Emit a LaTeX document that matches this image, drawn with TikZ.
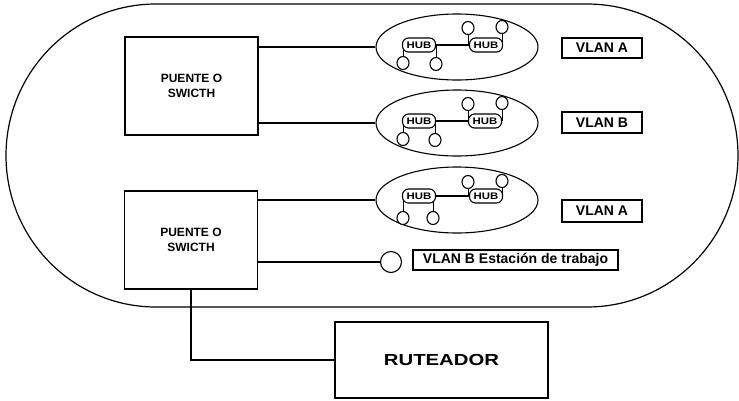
\documentclass[tikz,border=0pt]{standalone}
\usepackage{fontspec}
\setmainfont{Liberation Sans}
\newfontfamily\hubfont[FakeStretch=1.2]{Liberation Sans}
\newfontfamily\rutfont[FakeStretch=1.27]{Liberation Sans}
\usetikzlibrary{shapes.geometric,backgrounds}
\begin{document}
\begin{tikzpicture}[x=1pt,y=-1pt,line width=1.1pt,
  switchbox/.style={draw,line width=1.3pt,minimum width=133pt,minimum height=98pt,align=center,inner sep=0pt,
    font=\bfseries\fontsize{12}{14.5}\selectfont},
  vlanbox/.style={draw,line width=1.2pt,minimum width=80pt,minimum height=20pt,inner sep=0pt,
    font=\bfseries\fontsize{14}{16}\selectfont},
  lan/.style={draw,ellipse,minimum width=162pt,minimum height=66pt,inner sep=0pt},
  hub/.style={draw,fill=white,rounded corners=6pt,minimum width=33pt,minimum height=14pt,inner sep=0pt,
    font=\hubfont\bfseries\fontsize{9.5}{9.5}\selectfont},
  pc/.style={draw,fill=white,ellipse,minimum width=12pt,minimum height=13pt,inner sep=0pt},
  routerbox/.style={draw,line width=1.3pt,minimum width=213pt,minimum height=76pt,inner sep=0pt,
    font=\rutfont\bfseries\fontsize{16}{18}\selectfont},
]
\useasboundingbox (0,0) rectangle (739,400);

% outer VLAN boundary
\draw[line width=1.2pt] (156,4) -- (587,4)
  arc[start angle=-90,end angle=90,x radius=151,y radius=151.5]
  -- (156,307)
  arc[start angle=90,end angle=270,x radius=150,y radius=151.5] -- cycle;

% switches
\node[switchbox] (sw1) at (191.5,86) {PUENTE O\\SWICTH};
\node[switchbox] (sw2) at (191,240) {PUENTE O\\SWICTH};

% LAN ellipses
\node[lan] (lan1) at (457,47) {};
\node[lan] (lan2) at (457,123) {};
\node[lan] (lan3) at (457,200) {};

% hubs
\node[hub] (h11) at (419,45) {HUB};
\node[hub] (h12) at (486,45) {HUB};
\node[hub] (h21) at (419,121) {HUB};
\node[hub] (h22) at (485,121) {HUB};
\node[hub] (h31) at (419,196) {HUB};
\node[hub] (h32) at (486,196) {HUB};

% stations
\node[pc] (p11) at (468,28) {};
\node[pc] (p12) at (502,27) {};
\node[pc] (p13) at (403,63) {};
\node[pc] (p14) at (436,64) {};
\node[pc] (p21) at (468,104) {};
\node[pc] (p22) at (502,103) {};
\node[pc] (p23) at (403,139) {};
\node[pc] (p24) at (435,140) {};
\node[pc] (p31) at (468,182) {};
\node[pc] (p32) at (502,181) {};
\node[pc] (p33) at (403,218) {};
\node[pc] (p34) at (433,218) {};

\node[pc,minimum width=21pt,minimum height=21pt] (ws) at (391,262) {};

% labels
\node[vlanbox] (va1) at (602,48) {VLAN A};
\node[vlanbox,minimum height=21pt] (vb) at (602,122.5) {VLAN B};
\node[vlanbox,minimum height=22pt] (va2) at (602,211) {VLAN A};
\node[vlanbox,minimum width=205pt] (wsl) at (515.5,260) {VLAN B Estación de trabajo};

% router
\node[routerbox] (rout) at (441.5,360) {RUTEADOR};

% connectors
\draw (sw1.east |- lan1.west) -- (lan1.west);
\draw (sw1.east |- lan2.west) -- (lan2.west);
\draw (sw2.east |- lan3.west) -- (lan3.west);
\draw (sw2.east |- ws.west) -- (ws.west);
\draw (sw2.south) |- (rout.west);

\draw (h11) -- (h12);
\draw (h21) -- (h22);
\draw (h31) -- (h32);

\begin{scope}[on background layer]
  \foreach \p/\h in {p11/h12,p12/h12,p13/h11,p14/h11,p21/h22,p22/h22,p23/h21,p24/h21,p31/h32,p32/h32,p33/h31,p34/h31}
    \draw (\p.center) -- (\p.center |- \h.center);
\end{scope}
\end{tikzpicture}
\end{document}
